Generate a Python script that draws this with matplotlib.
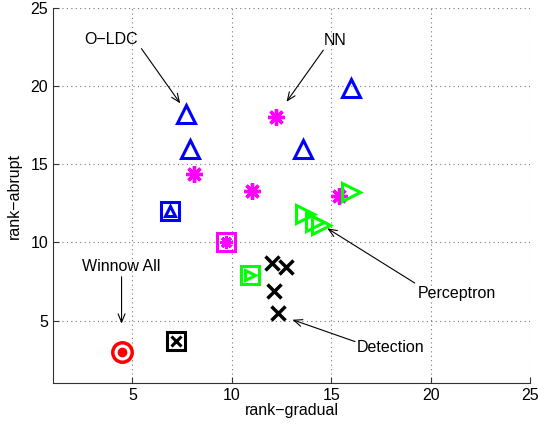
import numpy as np
from matplotlib import pyplot as plt

plt.rcParams['font.family'] = ['Liberation Sans', 'DejaVu Sans']

# --- donnees (rank-gradual, rank-abrupt) ---
# O-LDC : triangles bleus
oldc_x = [7.7, 7.9, 13.6, 16.0]
oldc_y = [18.2, 16.0, 16.0, 19.9]
oldc_all = (6.9, 12.0)

# NN : asterisques magenta
nn_x = [12.2, 8.1, 11.0, 15.4]
nn_y = [18.0, 14.4, 13.3, 13.0]
nn_all = (9.7, 10.0)

# Perceptron : triangles verts
perc_x = [16.0, 13.7, 14.2, 14.5]
perc_y = [13.2, 11.8, 11.3, 11.1]
perc_all = (10.9, 7.9)

# Detection : croix noires
det_x = [12.0, 12.7, 12.1, 12.3]
det_y = [8.7, 8.4, 6.9, 5.5]
det_all = (7.2, 3.7)

# Winnow All : cible rouge
winnow_all = (4.45, 3.0)

# annotations : texte, position du texte, debut de fleche, pointe
labels = ["O\u2212LDC", "NN", "Winnow All", "Perceptron", "Detection"]
label_pos = [(3.9, 23.0), (15.2, 22.9), (4.45, 8.45), (21.3, 6.7), (18.0, 3.3)]
arrow_from = [(5.45, 22.4), (14.6, 22.3), (4.45, 7.8), (19.2, 7.4), (16.2, 3.65)]
arrow_to = [(7.4, 18.9), (12.75, 19.0), (4.45, 4.8), (14.8, 10.9), (13.05, 5.05)]

fs = 11.5
asterisk = (8, 2, 0)

fig = plt.figure(figsize=(5.39, 4.28), dpi=100)
ax = fig.add_axes([0.0983, 0.1051, 0.885, 0.8762])

blue = "#0000ff"
mag = "#ff00ff"
green = "#00ff00"

# points individuels
ax.plot(oldc_x, oldc_y, ls="none", marker="^", ms=13, mfc="none", mec=blue, mew=2.2)
ax.plot(nn_x, nn_y, ls="none", marker=asterisk, ms=12, mec=mag, mew=2.4)
ax.plot(perc_x, perc_y, ls="none", marker=">", ms=13, mfc="none", mec=green, mew=2.2)
ax.plot(det_x, det_y, ls="none", marker="x", ms=10, mec="k", mew=2.5)

# resultats "All" : carre + symbole
for (px, py), m, c, s in [(oldc_all, "^", blue, 7), (nn_all, asterisk, mag, 9),
                          (perc_all, ">", green, 7), (det_all, "x", "k", 7)]:
    ax.plot(px, py, ls="none", marker="s", ms=13, mfc="none", mec=c, mew=2.2)
    ax.plot(px, py, ls="none", marker=m, ms=s, mfc="none", mec=c, mew=2.2)

ax.plot(*winnow_all, ls="none", marker="o", ms=14, mfc="none", mec="r", mew=2.5)
ax.plot(*winnow_all, ls="none", marker="o", ms=6, mfc="r", mec="r")

for txt, pos, a, b in zip(labels, label_pos, arrow_from, arrow_to):
    ax.text(pos[0], pos[1], txt, ha="center", va="center", fontsize=fs)
    ax.annotate("", xy=b, xytext=a,
                arrowprops=dict(arrowstyle="->,head_length=0.6,head_width=0.25", color="k", lw=0.8,
                                shrinkA=0, shrinkB=0))

ax.set_xlim(1, 25)
ax.set_ylim(1, 25)
ax.set_xticks([5, 10, 15, 20, 25])
ax.set_yticks([5, 10, 15, 20, 25])
ax.tick_params(direction="in", length=4, labelsize=fs, color="#333333")
ax.grid(True, ls=(0, (1, 3)), color="#777777", lw=0.8)
ax.spines["top"].set_visible(False)
ax.spines["right"].set_visible(False)
for s in ["left", "bottom"]:
    ax.spines[s].set_color("#333333")
ax.set_xlabel("rank\u2212gradual", fontsize=fs, labelpad=0)
ax.set_ylabel("rank\u2212abrupt", fontsize=fs, labelpad=6)

fig.savefig("out.png", dpi=100)
